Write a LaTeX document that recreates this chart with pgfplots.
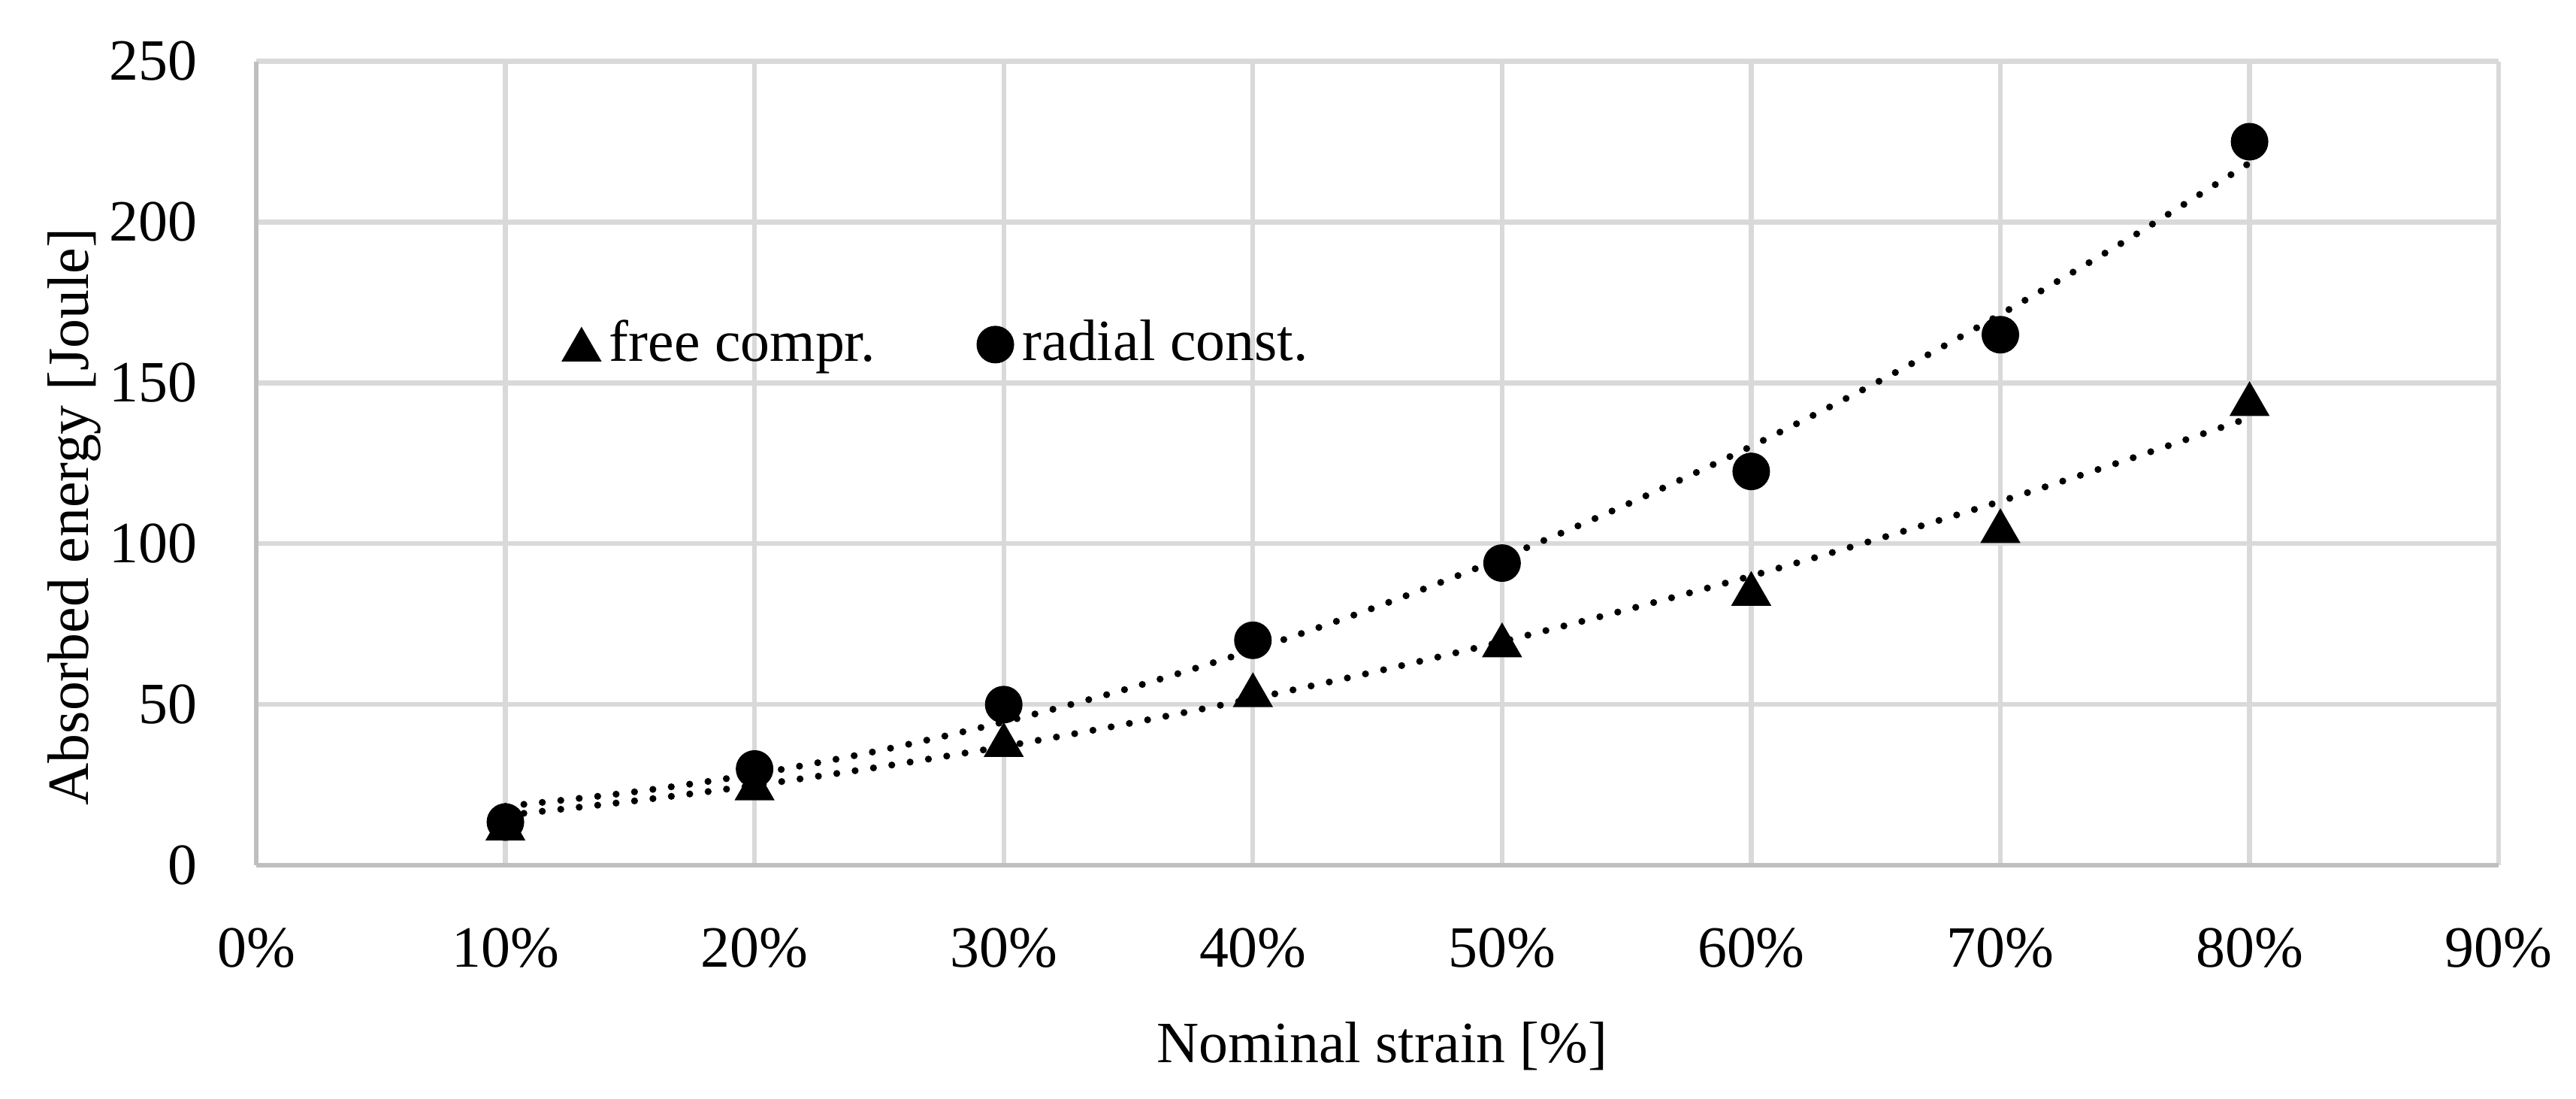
\documentclass[border=0pt,12pt]{standalone}
\usepackage{fontspec}
\setmainfont{Liberation Serif}
\usepackage{pgfplots}
\pgfplotsset{compat=1.18}
\definecolor{gridgray}{HTML}{D9D9D9}
\definecolor{axisgray}{HTML}{BFBFBF}
\newcommand\chartfont{\fontsize{12.6}{15}\selectfont}
\pgfplotsset{mylegimg/.style={legend image code/.code={\draw[mark repeat=2,mark phase=2,##1] plot coordinates {(0pt,0pt)(4pt,0pt)(8pt,0pt)};}}}
\begin{document}
\begin{tikzpicture}
\useasboundingbox (0,0) rectangle (555.3pt,236.7pt);
\begin{axis}[
  at={(55.24pt,50.2pt)}, anchor=south west,
  scale only axis, width=483.4pt, height=173.3pt,
  xmin=0, xmax=90, ymin=0, ymax=250,
  xtick={0,10,20,30,40,50,60,70,80,90},
  xticklabels={0\%,10\%,20\%,30\%,40\%,50\%,60\%,70\%,80\%,90\%},
  ytick={0,50,100,150,200,250},
  /pgf/number format/assume math mode=true,
  major tick length=0pt,
  grid=major,
  major grid style={gridgray, line width=1pt},
  axis x line*=bottom, axis y line*=left,
  x axis line style={-}, y axis line style={-},
  axis line style={axisgray, line width=1pt},
  tick label style={font=\chartfont, text=black},
  xticklabel style={anchor=base, yshift=-21.9pt, inner sep=0pt},
  yticklabel style={anchor=east, xshift=-12.6pt, inner sep=0pt},
  xlabel={Nominal strain [\%]},
  ylabel={Absorbed energy [Joule]},
  xlabel style={at={([xshift=1pt,yshift=-42.4pt]axis description cs:0.5,0)}, anchor=base, inner sep=0pt, font=\chartfont},
  ylabel style={at={([xshift=-39.2pt]axis description cs:0,0.4336)}, anchor=center, inner sep=0pt, font=\chartfont},
  legend columns=2,
  legend style={at={(axis description cs:0.1364,0.6477)}, anchor=west,
    draw=none, fill=none, inner sep=0pt, font=\chartfont,
    /tikz/every even column/.append style={column sep=20pt}},
]
% trend lines (quadratic fits)
\addplot[forget plot, smooth, black, line width=1.5pt, line cap=round, dash pattern=on 0pt off 4pt]
  coordinates {(10,15.6)(15,19.9)(20,24.9)(25,30.6)(30,37.0)(35,44.1)(40,51.9)(45,60.4)(50,69.6)(55,79.5)(60,90.0)(65,101.3)(70,113.2)(75,125.9)(80,139.2)};
\addplot[forget plot, smooth, black, line width=1.5pt, line cap=round, dash pattern=on 0pt off 4pt]
  coordinates {(10,18.4)(15,22.7)(20,28.4)(25,35.7)(30,44.6)(35,55.0)(40,67.0)(45,80.5)(50,95.6)(55,112.2)(60,130.3)(65,150.0)(70,171.3)(75,194.1)(80,218.4)};
% data
\addplot[only marks, mark=triangle*, mark size=4.6pt, black, mark options={yshift=-1.15pt}, mylegimg]
  coordinates {(10,13)(20,25.5)(30,39)(40,54.5)(50,70)(60,86)(70,105.5)(80,145)};
\addlegendentry{free compr.}
\addplot[only marks, mark=*, mark size=3.85pt, black, mylegimg]
  coordinates {(10,13.5)(20,30)(30,50)(40,70)(50,94)(60,122.5)(70,165)(80,225)};
\addlegendentry{radial const.}
\end{axis}
\end{tikzpicture}
\end{document}
